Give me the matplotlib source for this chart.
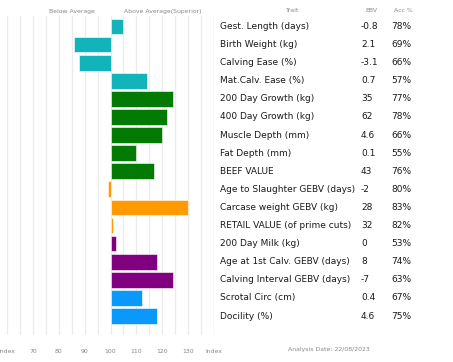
import matplotlib
matplotlib.use("Agg")
import matplotlib.pyplot as plt
from matplotlib.transforms import blended_transform_factory

traits = ["Gest. Length (days)", "Birth Weight (kg)", "Calving Ease (%)", "Mat.Calv. Ease (%)",
          "200 Day Growth (kg)", "400 Day Growth (kg)", "Muscle Depth (mm)", "Fat Depth (mm)",
          "BEEF VALUE", "Age to Slaughter GEBV (days)", "Carcase weight GEBV (kg)",
          "RETAIL VALUE (of prime cuts)", "200 Day Milk (kg)", "Age at 1st Calv. GEBV (days)",
          "Calving Interval GEBV (days)", "Scrotal Circ (cm)", "Docility (%)"]
ebv = ["-0.8", "2.1", "-3.1", "0.7", "35", "62", "4.6", "0.1", "43", "-2", "28", "32", "0",
       "8", "-7", "0.4", "4.6"]
acc = ["78%", "69%", "66%", "57%", "77%", "78%", "66%", "55%", "76%", "80%", "83%", "82%",
       "53%", "74%", "63%", "67%", "75%"]
index_vals = [105, 86, 88, 114, 124, 122, 120, 110, 117, 99, 130, 101, 102, 118, 124, 112, 118]
groups = ["calving"] * 4 + ["growth"] * 5 + ["carcase"] * 3 + ["maternal"] * 3 + ["other"] * 2
group_colors = {"calving": "#12b3bb", "growth": "#037a03", "carcase": "#ff9a00",
                "maternal": "#800080", "other": "#0a98fa"}
tick_vals = [60, 70, 80, 90, 100, 110, 120, 130, 140]
tick_labels = ["Index", "70", "80", "90", "100", "110", "120", "130", "Index"]
base = 100

W, H = 453, 362
fig = plt.figure(figsize=(W / 100, H / 100), dpi=100)
ax = fig.add_axes([7 / W, 1 - 335 / H, (214 - 7) / W, (335 - 16) / H])

ys = list(range(len(traits)))
lefts = [min(v, base) for v in index_vals]
widths = [abs(v - base) for v in index_vals]
cols = [group_colors[g] for g in groups]
ax.barh(ys, widths, left=lefts, height=0.87, color=cols, edgecolor="white", linewidth=0.4, zorder=3)

ax.set_xlim(60, 140)
ax.set_ylim(17.05, -0.58)
for gx in range(60, 141, 5):
    ax.axvline(gx, color="#ebebeb", linewidth=0.9, zorder=1)
ax.axvline(140, color="#dcdcdc", linewidth=0.9, zorder=1)
for s in ax.spines.values():
    s.set_visible(False)
ax.set_yticks([])
ax.set_xticks(tick_vals)
ax.set_xticklabels(tick_labels, fontsize=4.4, color="#888888")
ax.tick_params(axis="x", length=0, pad=10)

tr = blended_transform_factory(fig.transFigure, ax.transData)
fs = 6.5
tc = "#1a1a1a"
for i in ys:
    ax.text(220 / W, i, traits[i], transform=tr, fontsize=fs, va="center", ha="left",
            color=tc, clip_on=False)
    ax.text(361 / W, i, ebv[i], transform=tr, fontsize=fs, va="center", ha="left",
            color=tc, clip_on=False)
    ax.text(391 / W, i, acc[i], transform=tr, fontsize=fs, va="center", ha="left",
            color=tc, clip_on=False)

hs = 4.4
hc = "#888888"
fig.text(72 / W, 1 - 12 / H, "Below Average", fontsize=hs, color=hc, ha="center", va="center")
fig.text(163 / W, 1 - 12 / H, "Above Average(Superior)", fontsize=hs, color=hc, ha="center", va="center")
fig.text(293 / W, 1 - 10 / H, "Trait", fontsize=hs, color=hc, ha="center", va="center")
fig.text(371 / W, 1 - 10 / H, "EBV", fontsize=hs, color=hc, ha="center", va="center")
fig.text(403 / W, 1 - 10 / H, "Acc %", fontsize=hs, color=hc, ha="center", va="center")
fig.text(329 / W, 1 - 350 / H, "Analysis Date: 22/08/2023", fontsize=hs, color=hc, ha="center", va="center")

fig.savefig("out.png", dpi=100, facecolor="white")
